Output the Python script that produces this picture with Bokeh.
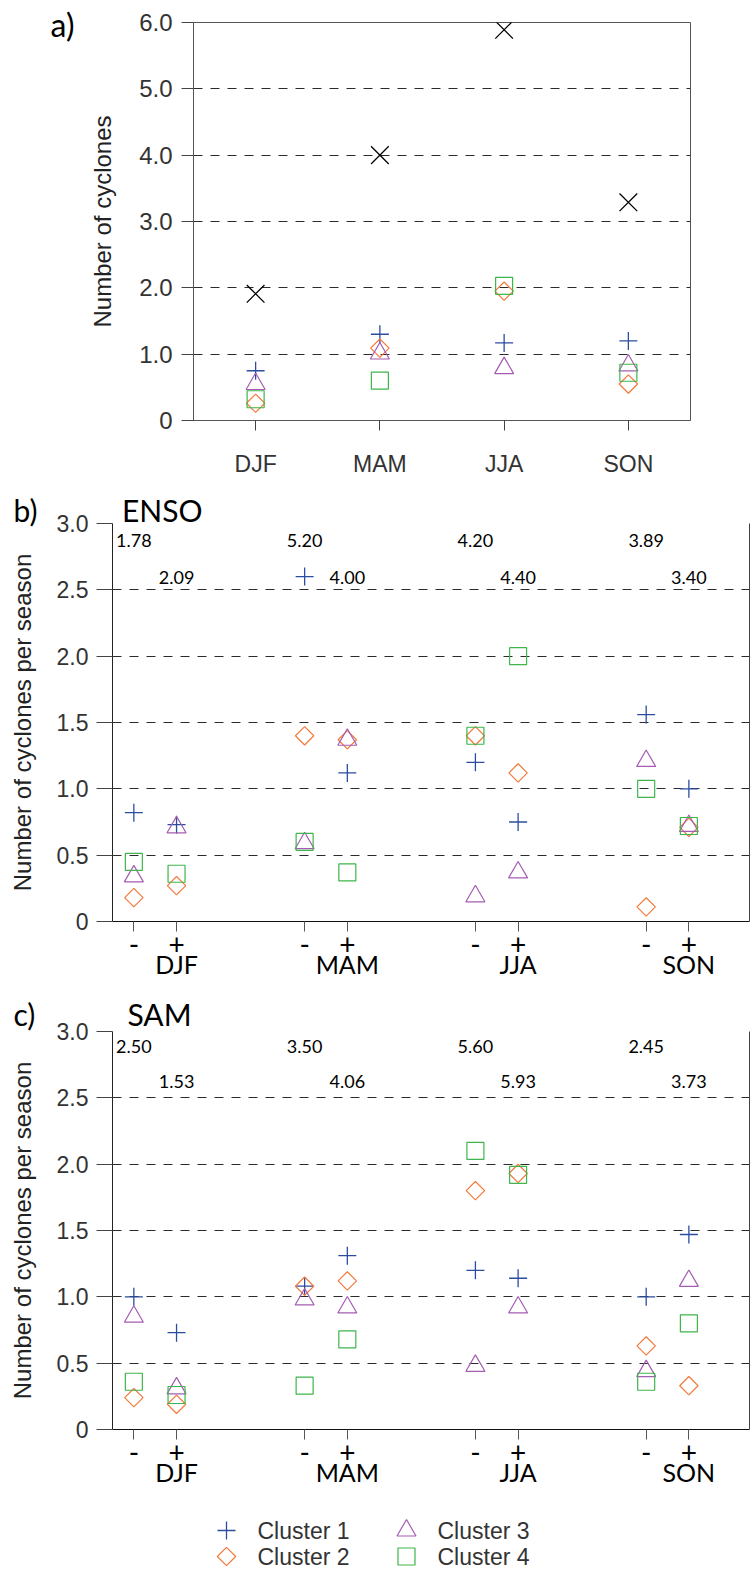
import numpy as np
from bokeh.plotting import figure
from bokeh.models import Range1d, FixedTicker, LinearAxis, Title
from bokeh.layouts import column
from bokeh.embed import file_html
from bokeh.resources import INLINE
from bokeh.core.properties import value

# ---------------- data ----------------
seasons = ["DJF", "MAM", "JJA", "SON"]
phases = ["-", "+"]

# panel a: all years
total_a = [1.91, 4.00, 5.89, 3.29]
c1_a = [0.75, 1.30, 1.17, 1.20]
c2_a = [0.26, 1.09, 1.95, 0.55]
c3_a = [0.55, 1.01, 0.79, 0.83]
c4_a = [0.32, 0.60, 2.03, 0.72]

# panel b: ENSO, order DJF-, DJF+, MAM-, MAM+, JJA-, JJA+, SON-, SON+
c1_enso = [0.82, 0.73, 2.60, 1.12, 1.20, 0.75, 1.56, 1.00]
c2_enso = [0.18, 0.27, 1.40, 1.37, 1.40, 1.12, 0.11, 0.71]
c3_enso = [0.34, 0.71, 0.59, 1.37, 0.19, 0.37, 1.21, 0.72]
c4_enso = [0.45, 0.36, 0.60, 0.37, 1.40, 2.00, 1.00, 0.72]
enso_neg_totals = [1.78, 5.20, 4.20, 3.89]
enso_pos_totals = [2.09, 4.00, 4.40, 3.40]

# panel c: SAM
c1_sam = [1.00, 0.73, 1.08, 1.31, 1.20, 1.14, 1.00, 1.47]
c2_sam = [0.24, 0.19, 1.08, 1.12, 1.80, 1.93, 0.63, 0.33]
c3_sam = [0.85, 0.31, 0.98, 0.92, 0.48, 0.92, 0.44, 1.12]
c4_sam = [0.36, 0.26, 0.33, 0.68, 2.10, 1.92, 0.36, 0.80]
sam_neg_totals = [2.50, 3.50, 5.60, 2.45]
sam_pos_totals = [1.53, 4.06, 5.93, 3.73]

cluster_names = ["Cluster 1", "Cluster 2", "Cluster 3", "Cluster 4"]

# ---------------- style ----------------
FA = "Liberation Sans"
FL = "Lato"
C1, C2, C3, C4 = "#2b4c9f", "#f37a3c", "#a45db2", "#3fb54b"
GRID = "#2b2b2b"
DASH = "9 8"
W = 751
NB = "\u00a0"

season_idx = np.arange(len(seasons), dtype=float)
OFF = 0.125
x_neg = season_idx - OFF
x_pos = season_idx + OFF
x_pairs = np.ravel(np.column_stack([x_neg, x_pos]))

MARKERS = [
    dict(marker="cross", size=18, line_color=C1, line_width=1.3),
    dict(marker="square", angle=np.pi / 4, size=13, line_color=C2, fill_color=None, line_width=1.2),
    dict(marker="triangle", size=19, line_color=C3, fill_color=None, line_width=1.2),
    dict(marker="square", size=17, line_color=C4, fill_color=None, line_width=1.2),
]


def no_frame_align(p):
    try:
        p.frame_align = False
    except Exception:
        pass


def add_clusters(p, xs, series):
    return [p.scatter(xs, ys, **MARKERS[k]) for k, ys in enumerate(series)]


# ---------------- panel a ----------------
pa = figure(width=W, height=485, x_range=Range1d(-0.5, 3.5), y_range=Range1d(0, 6),
            output_backend="svg", toolbar_location=None, title=None,
            min_border_left=193, min_border_right=61, min_border_top=22, min_border_bottom=65)
no_frame_align(pa)
pa.outline_line_color = "#555555"
pa.xgrid.visible = False
yt_a = [0, 1, 2, 3, 4, 5, 6]
pa.ygrid.ticker = FixedTicker(ticks=yt_a)
pa.ygrid.grid_line_color = GRID
pa.ygrid.grid_line_dash = DASH
pa.yaxis.ticker = FixedTicker(ticks=yt_a)
pa.yaxis.major_label_overrides = {t: ("0" if t == 0 else f"{t:.1f}") for t in yt_a}
pa.yaxis.axis_label = "Number of cyclones"
pa.xaxis.ticker = FixedTicker(ticks=list(season_idx))
pa.xaxis.major_label_overrides = {float(i): s for i, s in enumerate(seasons)}
for ax in (pa.xaxis[0], pa.yaxis[0]):
    ax.major_label_text_font = FA
    ax.major_label_text_color = "#333333"
    ax.major_tick_in = 0
    ax.major_tick_line_color = "#444444"
    ax.minor_tick_line_color = None
    ax.axis_line_color = "#555555"
    ax.axis_label_text_font = FA
    ax.axis_label_text_font_style = "normal"
    ax.axis_label_text_color = "#222222"
pa.yaxis.major_label_text_font_size = "24px"
pa.yaxis.major_tick_out = 12
pa.yaxis.major_label_standoff = 9
pa.yaxis.axis_label_text_font_size = "24px"
pa.yaxis.axis_label_standoff = 20
pa.xaxis.major_label_text_font_size = "23px"
pa.xaxis.major_tick_out = 10
pa.xaxis.major_label_standoff = 20

# panel tag "a)" as an outer, line-less left axis
A_TAG_Y = 5.97
tag_a = LinearAxis(ticker=FixedTicker(ticks=[A_TAG_Y]), major_label_overrides={A_TAG_Y: "a)"},
                   axis_line_color=None, major_tick_line_color=None, minor_tick_line_color=None,
                   major_label_standoff=6, major_label_text_font=FL,
                   major_label_text_font_size="32px", major_label_text_color="black")
pa.add_layout(tag_a, "left")

pa.scatter(season_idx, total_a, marker="x", size=25, line_color="black", line_width=1.3)
add_clusters(pa, season_idx, [c1_a, c2_a, c3_a, c4_a])


# ---------------- panels b / c ----------------
def index_panel(height, border_top, border_bottom, series, neg_tot, pos_tot,
                tag, name, gap, title_standoff, row1_y, row2_y):
    title = Title(text=tag + NB * gap + name, align="left", offset=-99, text_font=FL,
                  text_font_size="30px", text_font_style="normal", text_color="black",
                  standoff=title_standoff)
    p = figure(width=W, height=height, x_range=Range1d(-0.25, 3.48), y_range=Range1d(0, 3),
               output_backend="svg", toolbar_location=None, title=title,
               min_border_left=112, min_border_right=2, min_border_top=border_top,
               min_border_bottom=border_bottom)
    no_frame_align(p)
    p.outline_line_color = None
    p.xgrid.visible = False
    yt = [0, 0.5, 1.0, 1.5, 2.0, 2.5, 3.0]
    p.ygrid.ticker = FixedTicker(ticks=yt)
    p.ygrid.grid_line_color = GRID
    p.ygrid.grid_line_dash = DASH
    p.yaxis.ticker = FixedTicker(ticks=yt)
    p.yaxis.major_label_overrides = {t: ("0" if t == 0 else f"{t:.1f}") for t in yt}
    p.yaxis.axis_label = "Number of cyclones per season"
    p.yaxis.major_label_text_font = FA
    p.yaxis.major_label_text_font_size = "23px"
    p.yaxis.major_label_text_color = "#333333"
    p.yaxis.major_tick_out = 16
    p.yaxis.major_tick_in = 0
    p.yaxis.major_tick_line_color = "#444444"
    p.yaxis.minor_tick_line_color = None
    p.yaxis.major_label_standoff = 8
    p.yaxis.axis_line_color = "#222222"
    p.yaxis.axis_label_text_font = FA
    p.yaxis.axis_label_text_font_style = "normal"
    p.yaxis.axis_label_text_font_size = "24px"
    p.yaxis.axis_label_text_color = "#222222"
    p.yaxis.axis_label_standoff = 18

    xa = p.xaxis[0]
    xa.ticker = FixedTicker(ticks=list(x_pairs))
    xa.major_label_overrides = {float(x): phases[k % 2] for k, x in enumerate(x_pairs)}
    xa.major_label_text_font = FL
    xa.major_label_text_font_size = "28px"
    xa.major_label_text_color = "black"
    xa.major_tick_out = 10
    xa.major_tick_in = 0
    xa.major_tick_line_color = "#555555"
    xa.minor_tick_line_color = None
    xa.axis_line_color = "#111111"
    xa.major_label_standoff = 2

    sa = LinearAxis(ticker=FixedTicker(ticks=list(x_pos)),
                    major_label_overrides={float(x): s for x, s in zip(x_pos, seasons)},
                    axis_line_color=None, major_tick_line_color=None,
                    minor_tick_line_color=None, major_label_standoff=-15,
                    major_label_text_font=FL, major_label_text_font_size="25px",
                    major_label_text_color="black")
    p.add_layout(sa, "below")

    ra = LinearAxis(ticker=FixedTicker(ticks=[]), axis_line_color="#444444",
                    major_tick_line_color=None, minor_tick_line_color=None,
                    major_label_text_font_size="0px")
    p.add_layout(ra, "right")

    rs = add_clusters(p, x_pairs, series)
    p.text(x=x_neg, y=[row1_y] * 4, text=[f"{v:.2f}" for v in neg_tot],
           text_font=value(FL), text_font_size="18px", text_align="center",
           text_baseline="middle", text_color="black")
    p.text(x=x_pos, y=[row2_y] * 4, text=[f"{v:.2f}" for v in pos_tot],
           text_font=value(FL), text_font_size="18px", text_align="center",
           text_baseline="middle", text_color="black")
    return p, rs


pb, _ = index_panel(500, 38, 64, [c1_enso, c2_enso, c3_enso, c4_enso],
                    enso_neg_totals, enso_pos_totals, "b)", "ENSO", 11, -8, 2.87, 2.59)
pc, _ = index_panel(505, 46, 61, [c1_sam, c2_sam, c3_sam, c4_sam],
                    sam_neg_totals, sam_pos_totals, "c)", "SAM", 12, 0, 2.89, 2.62)

# ---------------- legend strip (pixel-like coordinates, y downward) ----------------
LH = 78
pl = figure(width=W, height=LH, x_range=Range1d(0, W), y_range=Range1d(LH, 0),
            output_backend="svg", toolbar_location=None, title=None,
            x_axis_location=None, y_axis_location=None, min_border=0)
no_frame_align(pl)
pl.outline_line_color = None
pl.grid.visible = False
key_x = [226, 226, 406, 406]
key_y = [40, 66, 40, 66]
for k, name in enumerate(cluster_names):
    pl.scatter([key_x[k]], [key_y[k]], **MARKERS[k])
pl.text(x=[kx + 31 for kx in key_x], y=key_y, text=cluster_names,
        text_font=value(FA), text_font_size="23px", text_align="left",
        text_baseline="middle", text_color="#333333")

layout = column(pa, pb, pc, pl, spacing=0)
open("out.html", "w").write(file_html(layout, INLINE))
